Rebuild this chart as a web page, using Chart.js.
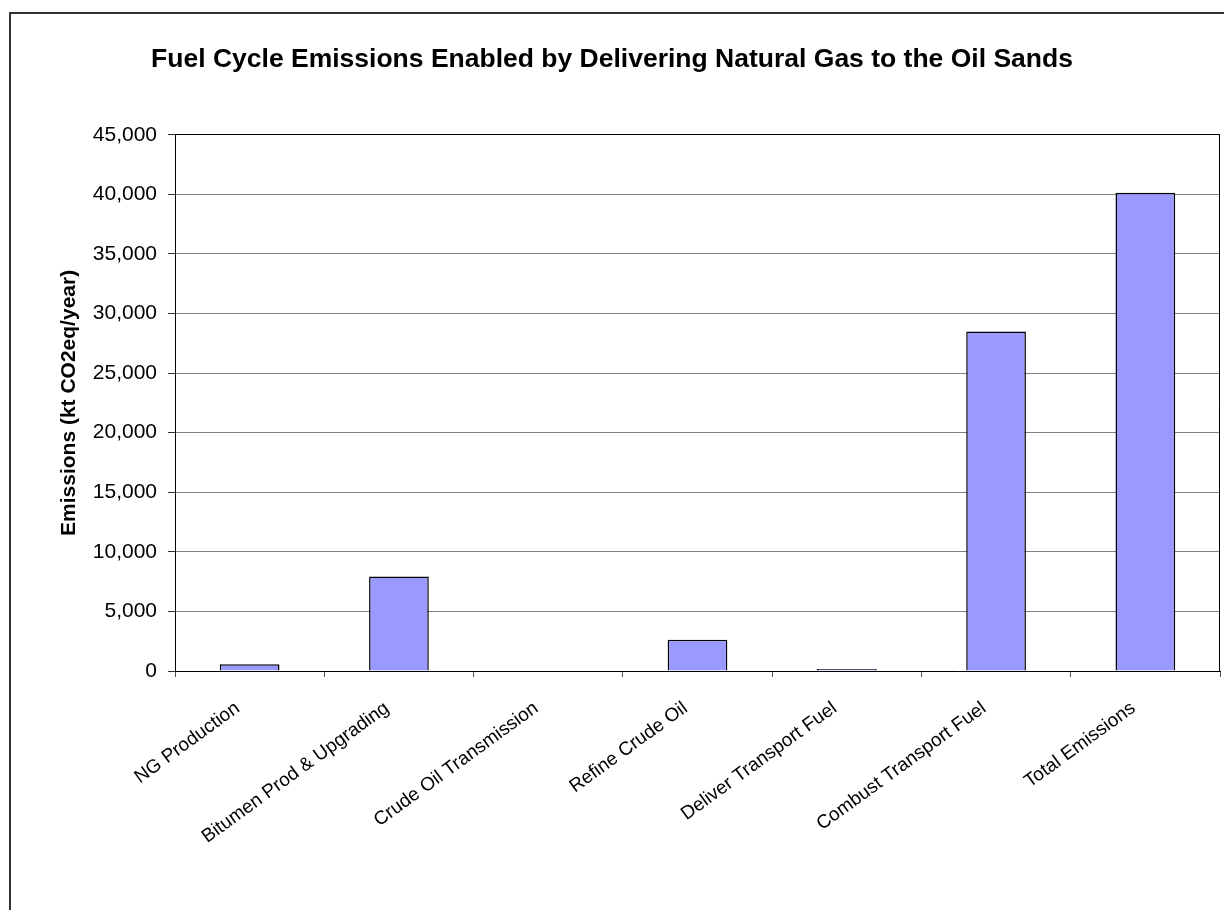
<!DOCTYPE html>
<html>
<head>
<meta charset="utf-8">
<script src="https://cdn.jsdelivr.net/npm/chart.js@4/dist/chart.umd.min.js"></script>
<style>
  html, body { margin: 0; padding: 0; background: #ffffff; }
  canvas { display: block; }
</style>
</head>
<body>
<canvas id="chart" width="1224" height="910"></canvas>
<script>
// Fuel cycle stages
const categories = [
  'NG Production',
  'Bitumen Prod & Upgrading',
  'Crude Oil Transmission',
  'Refine Crude Oil',
  'Deliver Transport Fuel',
  'Combust Transport Fuel',
  'Total Emissions'
];

// Emissions per stage, kt CO2eq/year
const emissions = [570, 7930, 0, 2630, 170, 28500, 40130];

// Value axis ticks
const yTicks = [0, 5000, 10000, 15000, 20000, 25000, 30000, 35000, 40000, 45000];

const FONT = "'Liberation Sans', Arial, Helvetica, sans-serif";

// Outer frame and plot-area right edge
const framePlugin = {
  id: 'frame',
  beforeDraw(chart) {
    const ctx = chart.ctx;
    ctx.save();
    ctx.fillStyle = '#ffffff';
    ctx.fillRect(0, 0, chart.width, chart.height);
    ctx.strokeStyle = '#333333';
    ctx.lineWidth = 2;
    ctx.beginPath();
    ctx.moveTo(10, chart.height + 5);
    ctx.lineTo(10, 13);
    ctx.lineTo(chart.width + 5, 13);
    ctx.stroke();
    ctx.restore();
  },
  afterDatasetsDraw(chart) {
    const a = chart.chartArea;
    const ctx = chart.ctx;
    ctx.save();
    ctx.strokeStyle = '#000000';
    ctx.lineWidth = 1;
    ctx.beginPath();
    ctx.moveTo(Math.round(a.right) - 0.5, a.top);
    ctx.lineTo(Math.round(a.right) - 0.5, a.bottom);
    ctx.stroke();
    ctx.restore();
  }
};

new Chart(document.getElementById('chart'), {
  type: 'bar',
  data: {
    labels: categories,
    datasets: [{
      data: emissions,
      backgroundColor: '#9999FF',
      borderColor: '#000000',
      borderWidth: 1.5,
      categoryPercentage: 1.0,
      barPercentage: 0.4
    }]
  },
  options: {
    responsive: false,
    animation: false,
    devicePixelRatio: 1,
    layout: { padding: { left: 4, right: 4, top: 0, bottom: 0 } },
    plugins: {
      legend: { display: false },
      tooltip: { enabled: false },
      title: {
        display: true,
        text: 'Fuel Cycle Emissions Enabled by Delivering Natural Gas to the Oil Sands',
        color: '#000000',
        font: { family: FONT, size: 26.5, weight: 'bold' },
        padding: { top: 44, bottom: 59 }
      }
    },
    scales: {
      x: {
        grid: {
          offset: true,
          drawOnChartArea: false,
          drawTicks: true,
          tickLength: 6,
          tickColor: '#555555'
        },
        border: { display: true, color: '#000000', width: 1 },
        ticks: {
          color: '#000000',
          font: { family: FONT, size: 19 },
          minRotation: 36,
          maxRotation: 36,
          autoSkip: false,
          padding: 20,
          labelOffset: -12
        },
        afterFit(scale) { scale.height = 239; }
      },
      y: {
        min: yTicks[0],
        max: yTicks[yTicks.length - 1],
        afterBuildTicks(scale) { scale.ticks = yTicks.map(v => ({ value: v })); },
        grid: {
          color: ctx => (ctx.tick && ctx.tick.value === yTicks[yTicks.length - 1]) ? '#000000' : '#808080',
          lineWidth: 1,
          drawTicks: true,
          tickLength: 7,
          tickColor: '#333333'
        },
        border: { display: true, color: '#000000', width: 1 },
        ticks: {
          color: '#000000',
          font: { family: FONT, size: 21 },
          padding: 11,
          callback: v => Number(v).toLocaleString('en-US')
        },
        title: {
          display: true,
          text: 'Emissions (kt CO2eq/year)',
          color: '#000000',
          font: { family: FONT, size: 21, weight: 'bold' },
          padding: { top: 53, bottom: 0 }
        },
        afterFit(scale) { scale.width = 171; }
      }
    }
  },
  plugins: [framePlugin]
});
</script>
</body>
</html>
